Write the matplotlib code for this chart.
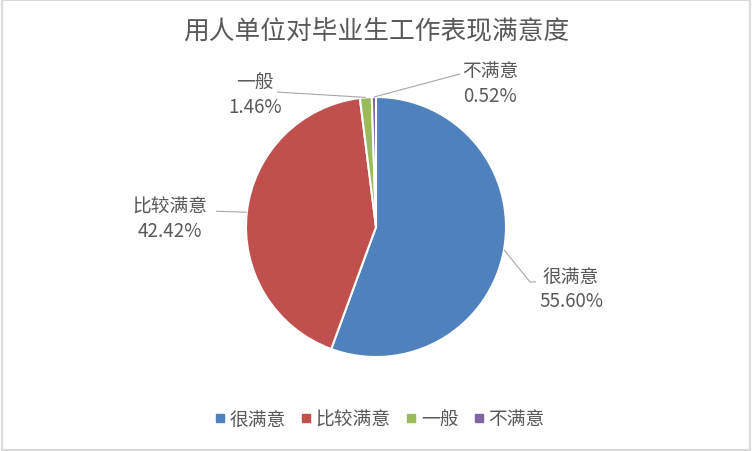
import numpy as np
import matplotlib
matplotlib.use("Agg")
import matplotlib.pyplot as plt
from matplotlib.patches import Rectangle
from matplotlib.lines import Line2D

plt.rcParams['font.family'] = ['Noto Sans CJK SC', 'DejaVu Sans']

title = "用人单位对毕业生工作表现满意度"
categories = ["很满意", "比较满意", "一般", "不满意"]
shares = [55.60, 42.42, 1.46, 0.52]
colors = ["#4F81BD", "#C0504D", "#9BBB59", "#8064A2"]
text_color = "#595959"
line_color = "#A6A6A6"

# label layout in pie-radius units: text centre, leader end, optional knee
label_text_pos = [(1.50, -0.473), (-1.585, 0.065), (-0.931, 1.023), (0.877, 1.108)]
leader_end = [(1.262, -0.423), (-1.277, 0.123), (-0.762, 1.038), (0.646, 1.177)]
leader_knee = [(1.185, -0.423), None, None, None]

W, H = 752, 452
fig = plt.figure(figsize=(W / 100, H / 100), dpi=100)

# pie axes: centre (376, 228) px, radius 130 px
cx, cy, r_px, half = 376, 228, 130, 160
ax = fig.add_axes([(cx - half) / W, (H - cy - half) / H, 2 * half / W, 2 * half / H])
lim = half / r_px

wedges, _ = ax.pie(shares, colors=colors, startangle=90, counterclock=False,
                   radius=1.0, center=(0, 0), frame=True,
                   wedgeprops=dict(edgecolor='white', linewidth=1.5))
ax.set_xlim(-lim, lim)
ax.set_ylim(-lim, lim)
ax.set_aspect('equal')
ax.axis('off')

for w, name, val, tpos, lend, knee in zip(wedges, categories, shares,
                                          label_text_pos, leader_end, leader_knee):
    mid = np.deg2rad((w.theta1 + w.theta2) / 2)
    edge = (np.cos(mid), np.sin(mid))
    pts = [edge] + ([knee] if knee else []) + [lend]
    xs, ys = zip(*pts)
    ax.plot(xs, ys, color=line_color, lw=0.8, solid_capstyle='butt')
    ax.text(tpos[0], tpos[1], f"{name}\n{val:.2f}%", ha='center', va='center',
            multialignment='center', fontsize=13.5, color=text_color, linespacing=1.2)

fig.text(0.5, 1 - 32 / H, title, ha='center', va='center', fontsize=18.5, color=text_color)

handles = [Line2D([0], [0], marker='s', linestyle='none', markersize=5.5,
                  markerfacecolor=c, markeredgecolor=c) for c in colors]
leg = fig.legend(handles, categories, loc='center', bbox_to_anchor=(0.504, 1 - 420 / H),
                 ncol=4, frameon=False, fontsize=13.5, handlelength=0.7,
                 handletextpad=0.15, columnspacing=0.75)
for t in leg.get_texts():
    t.set_color(text_color)

fig.patches.append(Rectangle((0.002, 0.003), 0.996, 0.994, transform=fig.transFigure,
                             fill=False, edgecolor="#D9D9D9", linewidth=1.5))

fig.savefig("out.png", dpi=100, facecolor='white')
